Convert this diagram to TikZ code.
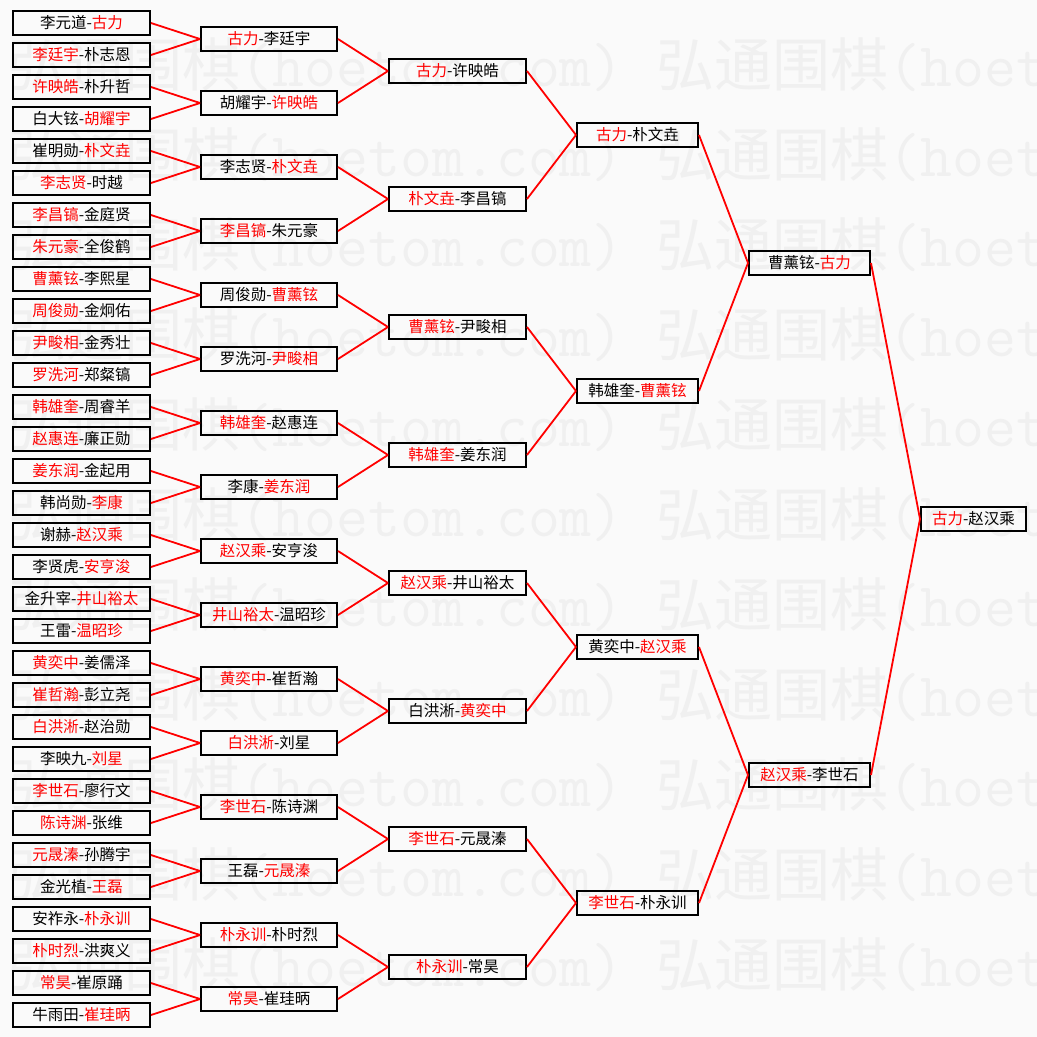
\documentclass[tikz,border=0pt]{standalone}
\usepackage{fontspec}
\setmainfont{Noto Sans CJK SC}
\definecolor{pagebg}{RGB}{250,250,250}
\definecolor{wmgray}{RGB}{240,240,240}
\newcommand{\wn}[1]{\textcolor{red}{#1}}
\newcommand{\wmunit}{弘通围棋{\ttfamily\fontsize{62}{62}\selectfont(hoetom.com)}\hspace{32.5pt}}

\tikzset{
  player/.style={draw, rectangle, line width=2pt, inner sep=0pt,
    minimum height=24pt, font=\fontsize{15.5}{15.5}\selectfont},
  rd32/.style={player, minimum width=137pt},
  rd16/.style={player, minimum width=136pt},
  rd8/.style={player, minimum width=137pt},
  rd4/.style={player, minimum width=121pt},
  rd2/.style={player, minimum width=121pt},
  rd1/.style={player, minimum width=105pt},
  link/.style={red, line width=1.8pt},
  wtext/.style={anchor=base west, inner sep=0pt, text=wmgray,
    font=\fontsize{58}{58}\selectfont}
}

\begin{document}
\begin{tikzpicture}[x=1pt, y=-1pt]
\useasboundingbox (0,0) rectangle (1037,1037);
\fill[pagebg] (0,0) rectangle (1037,1037);

% watermark
\node[wtext] (wm0) at (8.5,86) {\wmunit\wmunit};
\node[wtext] (wm1) at (8.5,176) {\wmunit\wmunit};
\node[wtext] (wm2) at (8.5,266) {\wmunit\wmunit};
\node[wtext] (wm3) at (8.5,356) {\wmunit\wmunit};
\node[wtext] (wm4) at (8.5,446) {\wmunit\wmunit};
\node[wtext] (wm5) at (8.5,536) {\wmunit\wmunit};
\node[wtext] (wm6) at (8.5,626) {\wmunit\wmunit};
\node[wtext] (wm7) at (8.5,716) {\wmunit\wmunit};
\node[wtext] (wm8) at (8.5,806) {\wmunit\wmunit};
\node[wtext] (wm9) at (8.5,896) {\wmunit\wmunit};
\node[wtext] (wm10) at (8.5,986) {\wmunit\wmunit};

% first round
\node[rd32] (a1) at (81.5,23) {李元道-\wn{古力}};
\node[rd32] (a2) at (81.5,55) {\wn{李廷宇}-朴志恩};
\node[rd32] (a3) at (81.5,87) {\wn{许映皓}-朴升哲};
\node[rd32] (a4) at (81.5,119) {白大铉-\wn{胡耀宇}};
\node[rd32] (a5) at (81.5,151) {崔明勋-\wn{朴文垚}};
\node[rd32] (a6) at (81.5,183) {\wn{李志贤}-时越};
\node[rd32] (a7) at (81.5,215) {\wn{李昌镐}-金庭贤};
\node[rd32] (a8) at (81.5,247) {\wn{朱元豪}-全俊鹤};
\node[rd32] (a9) at (81.5,279) {\wn{曹薰铉}-李熙星};
\node[rd32] (a10) at (81.5,311) {\wn{周俊勋}-金炯佑};
\node[rd32] (a11) at (81.5,343) {\wn{尹畯相}-金秀壮};
\node[rd32] (a12) at (81.5,375) {\wn{罗洗河}-郑粲镐};
\node[rd32] (a13) at (81.5,407) {\wn{韩雄奎}-周睿羊};
\node[rd32] (a14) at (81.5,439) {\wn{赵惠连}-廉正勋};
\node[rd32] (a15) at (81.5,471) {\wn{姜东润}-金起用};
\node[rd32] (a16) at (81.5,503) {韩尚勋-\wn{李康}};
\node[rd32] (a17) at (81.5,535) {谢赫-\wn{赵汉乘}};
\node[rd32] (a18) at (81.5,567) {李贤虎-\wn{安亨浚}};
\node[rd32] (a19) at (81.5,599) {金升宰-\wn{井山裕太}};
\node[rd32] (a20) at (81.5,631) {王雷-\wn{温昭珍}};
\node[rd32] (a21) at (81.5,663) {\wn{黄奕中}-姜儒泽};
\node[rd32] (a22) at (81.5,695) {\wn{崔哲瀚}-彭立尧};
\node[rd32] (a23) at (81.5,727) {\wn{白洪淅}-赵治勋};
\node[rd32] (a24) at (81.5,759) {李映九-\wn{刘星}};
\node[rd32] (a25) at (81.5,791) {\wn{李世石}-廖行文};
\node[rd32] (a26) at (81.5,823) {\wn{陈诗渊}-张维};
\node[rd32] (a27) at (81.5,855) {\wn{元晟溱}-孙腾宇};
\node[rd32] (a28) at (81.5,887) {金光植-\wn{王磊}};
\node[rd32] (a29) at (81.5,919) {安祚永-\wn{朴永训}};
\node[rd32] (a30) at (81.5,951) {\wn{朴时烈}-洪爽义};
\node[rd32] (a31) at (81.5,983) {\wn{常昊}-崔原踊};
\node[rd32] (a32) at (81.5,1015) {牛雨田-\wn{崔珪昞}};

% second round
\node[rd16] (b1) at (269,39) {\wn{古力}-李廷宇};
\node[rd16] (b2) at (269,103) {胡耀宇-\wn{许映皓}};
\node[rd16] (b3) at (269,167) {李志贤-\wn{朴文垚}};
\node[rd16] (b4) at (269,231) {\wn{李昌镐}-朱元豪};
\node[rd16] (b5) at (269,295) {周俊勋-\wn{曹薰铉}};
\node[rd16] (b6) at (269,359) {罗洗河-\wn{尹畯相}};
\node[rd16] (b7) at (269,423) {\wn{韩雄奎}-赵惠连};
\node[rd16] (b8) at (269,487) {李康-\wn{姜东润}};
\node[rd16] (b9) at (269,551) {\wn{赵汉乘}-安亨浚};
\node[rd16] (b10) at (269,615) {\wn{井山裕太}-温昭珍};
\node[rd16] (b11) at (269,679) {\wn{黄奕中}-崔哲瀚};
\node[rd16] (b12) at (269,743) {\wn{白洪淅}-刘星};
\node[rd16] (b13) at (269,807) {\wn{李世石}-陈诗渊};
\node[rd16] (b14) at (269,871) {王磊-\wn{元晟溱}};
\node[rd16] (b15) at (269,935) {\wn{朴永训}-朴时烈};
\node[rd16] (b16) at (269,999) {\wn{常昊}-崔珪昞};

% quarter finals
\node[rd8] (c1) at (457.5,71) {\wn{古力}-许映皓};
\node[rd8] (c2) at (457.5,199) {\wn{朴文垚}-李昌镐};
\node[rd8] (c3) at (457.5,327) {\wn{曹薰铉}-尹畯相};
\node[rd8] (c4) at (457.5,455) {\wn{韩雄奎}-姜东润};
\node[rd8] (c5) at (457.5,583) {\wn{赵汉乘}-井山裕太};
\node[rd8] (c6) at (457.5,711) {白洪淅-\wn{黄奕中}};
\node[rd8] (c7) at (457.5,839) {\wn{李世石}-元晟溱};
\node[rd8] (c8) at (457.5,967) {\wn{朴永训}-常昊};

% semi finals
\node[rd4] (d1) at (637.5,135) {\wn{古力}-朴文垚};
\node[rd4] (d2) at (637.5,391) {韩雄奎-\wn{曹薰铉}};
\node[rd4] (d3) at (637.5,647) {黄奕中-\wn{赵汉乘}};
\node[rd4] (d4) at (637.5,903) {\wn{李世石}-朴永训};

% finals
\node[rd2] (e1) at (809.5,263) {曹薰铉-\wn{古力}};
\node[rd2] (e2) at (809.5,775) {\wn{赵汉乘}-李世石};
\node[rd1] (f1) at (973.5,519) {\wn{古力}-赵汉乘};

% links
\draw[link] (a1.east) -- (b1.west) (a2.east) -- (b1.west);
\draw[link] (a3.east) -- (b2.west) (a4.east) -- (b2.west);
\draw[link] (a5.east) -- (b3.west) (a6.east) -- (b3.west);
\draw[link] (a7.east) -- (b4.west) (a8.east) -- (b4.west);
\draw[link] (a9.east) -- (b5.west) (a10.east) -- (b5.west);
\draw[link] (a11.east) -- (b6.west) (a12.east) -- (b6.west);
\draw[link] (a13.east) -- (b7.west) (a14.east) -- (b7.west);
\draw[link] (a15.east) -- (b8.west) (a16.east) -- (b8.west);
\draw[link] (a17.east) -- (b9.west) (a18.east) -- (b9.west);
\draw[link] (a19.east) -- (b10.west) (a20.east) -- (b10.west);
\draw[link] (a21.east) -- (b11.west) (a22.east) -- (b11.west);
\draw[link] (a23.east) -- (b12.west) (a24.east) -- (b12.west);
\draw[link] (a25.east) -- (b13.west) (a26.east) -- (b13.west);
\draw[link] (a27.east) -- (b14.west) (a28.east) -- (b14.west);
\draw[link] (a29.east) -- (b15.west) (a30.east) -- (b15.west);
\draw[link] (a31.east) -- (b16.west) (a32.east) -- (b16.west);

\draw[link] (b1.east) -- (c1.west) (b2.east) -- (c1.west);
\draw[link] (b3.east) -- (c2.west) (b4.east) -- (c2.west);
\draw[link] (b5.east) -- (c3.west) (b6.east) -- (c3.west);
\draw[link] (b7.east) -- (c4.west) (b8.east) -- (c4.west);
\draw[link] (b9.east) -- (c5.west) (b10.east) -- (c5.west);
\draw[link] (b11.east) -- (c6.west) (b12.east) -- (c6.west);
\draw[link] (b13.east) -- (c7.west) (b14.east) -- (c7.west);
\draw[link] (b15.east) -- (c8.west) (b16.east) -- (c8.west);

\draw[link] (c1.east) -- (d1.west) (c2.east) -- (d1.west);
\draw[link] (c3.east) -- (d2.west) (c4.east) -- (d2.west);
\draw[link] (c5.east) -- (d3.west) (c6.east) -- (d3.west);
\draw[link] (c7.east) -- (d4.west) (c8.east) -- (d4.west);

\draw[link] (d1.east) -- (e1.west) (d2.east) -- (e1.west);
\draw[link] (d3.east) -- (e2.west) (d4.east) -- (e2.west);
\draw[link] (e1.east) -- (f1.west) (e2.east) -- (f1.west);
\end{tikzpicture}
\end{document}
